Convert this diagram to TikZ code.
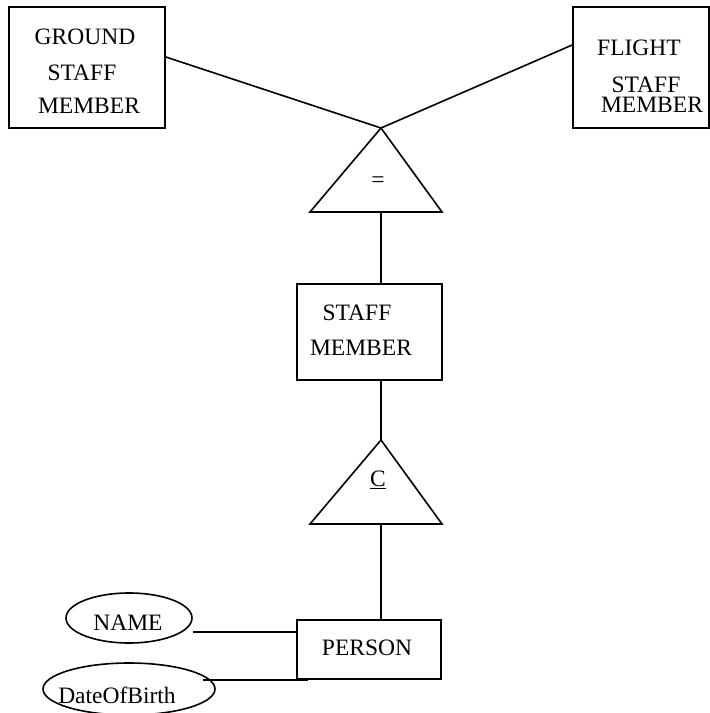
\documentclass[tikz,border=0pt]{standalone}
\usepackage{fontspec}
\setmainfont{Liberation Serif}
\usetikzlibrary{shapes.geometric,calc}
\begin{document}
\begin{tikzpicture}[x=1pt,y=-1pt,line width=1.6pt,line join=miter,
  entity/.style={draw,rectangle,inner sep=0pt},
  attr/.style={draw,ellipse,inner sep=0pt},
  lbl/.style={inner sep=0pt,font=\fontsize{23.5}{28}\selectfont}]
\useasboundingbox (0,0) rectangle (710,713);

% entity boxes
\node[entity,minimum width=156,minimum height=121] (ground) at (87,67.5) {};
\node[entity,minimum width=136,minimum height=121] (flight) at (641,67.5) {};
\node[entity,minimum width=145,minimum height=96] (staff) at (369.5,332) {};
\node[entity,minimum width=144,minimum height=59] (person) at (369,649.5) {};

% attribute ellipses
\node[attr,minimum width=126,minimum height=50] (name) at (129,618) {};
\node[attr,minimum width=172,minimum height=52] (dob) at (129,689) {};

% specialisation triangles
\coordinate (t1a) at (381,128);
\coordinate (t1l) at (310,212);
\coordinate (t1r) at (442,212);
\coordinate (t1b) at (381,212);
\draw (t1l) -- (t1a) -- (t1r) -- cycle;
\coordinate (t2a) at (381,440);
\coordinate (t2l) at (310,524);
\coordinate (t2r) at (442,524);
\coordinate (t2b) at (381,524);
\draw (t2l) -- (t2a) -- (t2r) -- cycle;

% labels
\node[lbl] (g1) at (85,37) {GROUND};
\node[lbl] (g2) at (82,73) {STAFF};
\node[lbl] (g3) at (89,106) {MEMBER};
\node[lbl] (f1) at (639,47.5) {FLIGHT};
\node[lbl] (f2) at (646,84.5) {STAFF};
\node[lbl] (f3) at (652,105) {MEMBER};
\node[lbl] (s1) at (357,313) {STAFF};
\node[lbl] (s2) at (361,348) {MEMBER};
\node[lbl] (p1) at (367,648) {PERSON};
\node[lbl] (n1) at (128,623) {NAME};
\node[lbl] (d1) at (117,695) {DateOfBirth};
\node[lbl] (eq) at (378,182) {=};
\node[lbl] (cc) at (378,480) {\underline{C}};

% connectors
\draw ([yshift=10.5pt]ground.east) -- (t1a) -- ([yshift=22.5pt]flight.west);
\draw (t1b) -- (t1b |- staff.north);
\draw (t2a |- staff.south) -- (t2a);
\draw (t2b) -- (t2b |- person.north);
\draw ([yshift=-14pt]name.east) -- ([yshift=-14pt]name.east -| person.west);
\draw ([xshift=-13pt]dob.east |- person.south) -- ([xshift=12pt]person.south west);
\end{tikzpicture}
\end{document}
